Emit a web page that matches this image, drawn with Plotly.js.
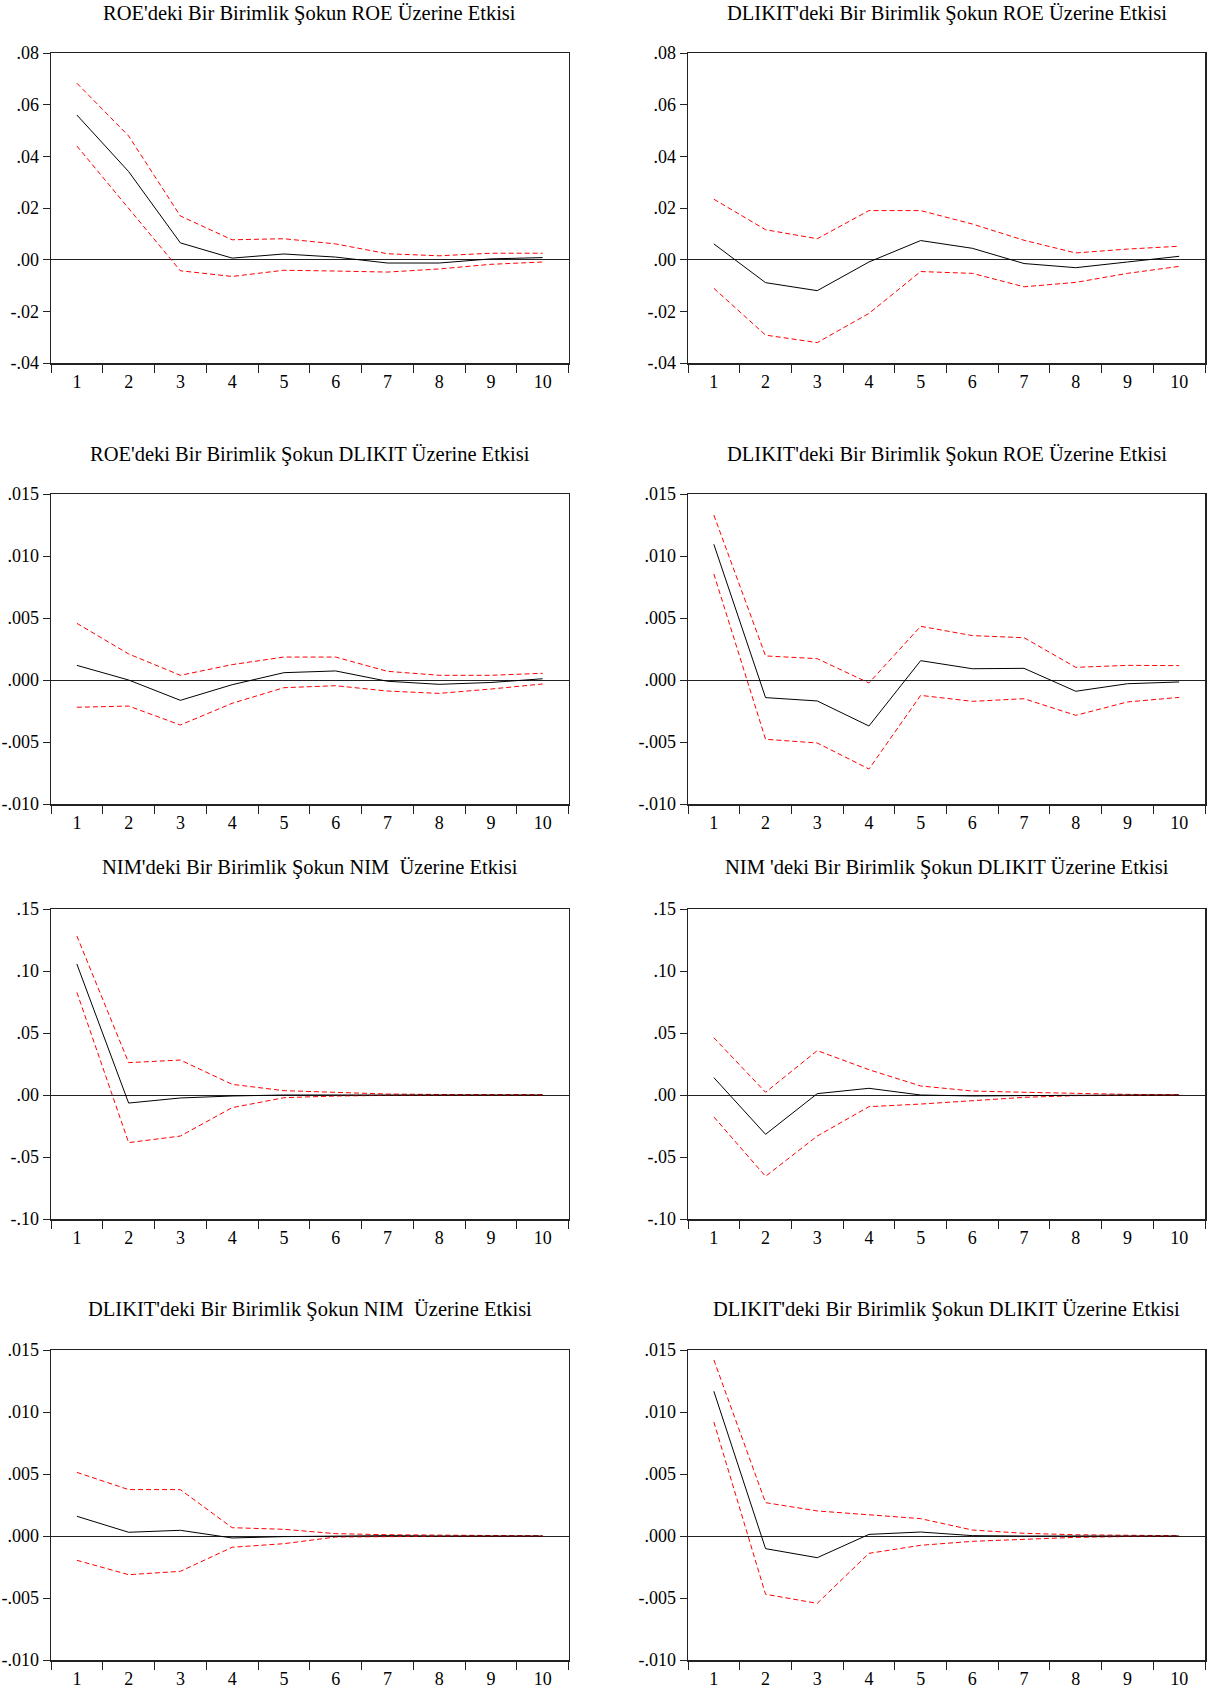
<!DOCTYPE html>
<html>
<head>
<meta charset="utf-8">
<script src="https://cdn.plot.ly/plotly-3.0.1.min.js"></script>
<style>html,body{margin:0;padding:0;background:#fff;}#chart{width:1216px;height:1695px;}</style>
</head>
<body>
<div id="chart"></div>
<script>
// ---------- DATA ----------
const horizons = ['1','2','3','4','5','6','7','8','9','10'];

const titles = [
  "ROE'deki Bir Birimlik Şokun ROE Üzerine Etkisi",
  "DLIKIT'deki Bir Birimlik Şokun ROE Üzerine Etkisi",
  "ROE'deki Bir Birimlik Şokun DLIKIT Üzerine Etkisi",
  "DLIKIT'deki Bir Birimlik Şokun ROE Üzerine Etkisi",
  "NIM'deki Bir Birimlik Şokun NIM  Üzerine Etkisi",
  "NIM 'deki Bir Birimlik Şokun DLIKIT Üzerine Etkisi",
  "DLIKIT'deki Bir Birimlik Şokun NIM  Üzerine Etkisi",
  "DLIKIT'deki Bir Birimlik Şokun DLIKIT Üzerine Etkisi"
];

// Panel 1: ROE -> ROE
const p1Resp  = [0.0560, 0.0341, 0.0065, 0.0006, 0.0022, 0.0010, -0.0013, -0.0013, 0.0003, 0.0008];
const p1Upper = [0.0683, 0.0479, 0.0169, 0.0077, 0.0081, 0.0061, 0.0023, 0.0015, 0.0025, 0.0025];
const p1Lower = [0.0440, 0.0200, -0.0043, -0.0065, -0.0041, -0.0044, -0.0048, -0.0036, -0.0018, -0.0009];

// Panel 2: DLIKIT -> ROE
const p2Resp  = [0.0061, -0.0089, -0.0120, -0.0009, 0.0074, 0.0044, -0.0015, -0.0031, -0.0009, 0.0013];
const p2Upper = [0.0234, 0.0116, 0.0081, 0.0190, 0.0190, 0.0138, 0.0075, 0.0026, 0.0041, 0.0052];
const p2Lower = [-0.0111, -0.0292, -0.0321, -0.0208, -0.0046, -0.0053, -0.0105, -0.0088, -0.0053, -0.0026];

// Panel 3: ROE -> DLIKIT
const p3Resp  = [0.00118, 0.0000, -0.00164, -0.00038, 0.00059, 0.00073, -0.00010, -0.00035, -0.00020, 0.00010];
const p3Upper = [0.00457, 0.00210, 0.00038, 0.00124, 0.00185, 0.00185, 0.00070, 0.00038, 0.00038, 0.00054];
const p3Lower = [-0.00220, -0.00210, -0.00363, -0.00188, -0.00062, -0.00046, -0.00089, -0.00108, -0.00073, -0.00032];

// Panel 4: DLIKIT -> (second row right)
const p4Resp  = [0.01094, -0.00142, -0.00169, -0.00371, 0.00156, 0.00091, 0.00094, -0.00091, -0.00030, -0.00016];
const p4Upper = [0.01330, 0.00194, 0.00172, -0.00024, 0.00433, 0.00358, 0.00341, 0.00102, 0.00118, 0.00116];
const p4Lower = [0.00855, -0.00478, -0.00508, -0.00718, -0.00124, -0.00172, -0.00151, -0.00285, -0.00177, -0.00140];

// Panel 5: NIM -> NIM
const p5Resp  = [0.1056, -0.0065, -0.0024, -0.0008, 0.0000, 0.0002, 0.0001, 0.0000, 0.0000, 0.0000];
const p5Upper = [0.1282, 0.0261, 0.0282, 0.0086, 0.0035, 0.0022, 0.0008, 0.0004, 0.0002, 0.0001];
const p5Lower = [0.0828, -0.0384, -0.0331, -0.0102, -0.0022, -0.0008, -0.0003, -0.0001, 0.0000, 0.0000];

// Panel 6: NIM -> DLIKIT
const p6Resp  = [0.0140, -0.0317, 0.0011, 0.0054, 0.0000, -0.0008, -0.0005, 0.0000, 0.0000, 0.0000];
const p6Upper = [0.0462, 0.0022, 0.0358, 0.0204, 0.0073, 0.0032, 0.0022, 0.0013, 0.0005, 0.0002];
const p6Lower = [-0.0177, -0.0656, -0.0331, -0.0094, -0.0073, -0.0043, -0.0019, -0.0005, -0.0002, -0.0001];

// Panel 7: DLIKIT -> NIM
const p7Resp  = [0.00159, 0.00030, 0.00046, -0.00016, -0.00005, 0.00000, 0.00003, 0.00000, 0.00000, 0.00000];
const p7Upper = [0.00513, 0.00374, 0.00374, 0.00067, 0.00054, 0.00019, 0.00010, 0.00005, 0.00002, 0.00001];
const p7Lower = [-0.00196, -0.00312, -0.00285, -0.00091, -0.00062, -0.00008, -0.00005, -0.00002, 0.00000, 0.00000];

// Panel 8: DLIKIT -> DLIKIT
const p8Resp  = [0.01167, -0.00102, -0.00175, 0.00013, 0.00032, 0.00003, 0.00000, 0.00000, 0.00000, 0.00000];
const p8Upper = [0.01420, 0.00269, 0.00202, 0.00172, 0.00140, 0.00048, 0.00022, 0.00010, 0.00005, 0.00002];
const p8Lower = [0.00919, -0.00470, -0.00543, -0.00140, -0.00075, -0.00043, -0.00027, -0.00011, -0.00004, -0.00001];

// Y tick values / labels
const roeTickVals = [-0.04, -0.02, 0, 0.02, 0.04, 0.06, 0.08];
const roeTickText = ['-.04', '-.02', '.00', '.02', '.04', '.06', '.08'];
const smallTickVals = [-0.010, -0.005, 0, 0.005, 0.010, 0.015];
const smallTickText = ['-.010', '-.005', '.000', '.005', '.010', '.015'];
const nimTickVals = [-0.10, -0.05, 0, 0.05, 0.10, 0.15];
const nimTickText = ['-.10', '-.05', '.00', '.05', '.10', '.15'];

// ---------- LAYOUT ----------
const W = 1216, H = 1695;
const cols = [[51, 568.5], [688, 1205]];
const rows = [[53, 363], [494, 804], [909, 1219], [1350, 1660]];
const titleY = [13, 454, 867.5, 1309];

const panels = [
  {r: p1Resp, u: p1Upper, l: p1Lower, tv: roeTickVals, tt: roeTickText},
  {r: p2Resp, u: p2Upper, l: p2Lower, tv: roeTickVals, tt: roeTickText},
  {r: p3Resp, u: p3Upper, l: p3Lower, tv: smallTickVals, tt: smallTickText},
  {r: p4Resp, u: p4Upper, l: p4Lower, tv: smallTickVals, tt: smallTickText},
  {r: p5Resp, u: p5Upper, l: p5Lower, tv: nimTickVals, tt: nimTickText},
  {r: p6Resp, u: p6Upper, l: p6Lower, tv: nimTickVals, tt: nimTickText},
  {r: p7Resp, u: p7Upper, l: p7Lower, tv: smallTickVals, tt: smallTickText},
  {r: p8Resp, u: p8Upper, l: p8Lower, tv: smallTickVals, tt: smallTickText}
];

const FONT = "'Liberation Serif', 'Times New Roman', serif";
const traces = [];
const layout = {
  width: W, height: H,
  margin: {l: 0, r: 0, t: 0, b: 0},
  paper_bgcolor: '#ffffff', plot_bgcolor: '#ffffff',
  showlegend: false,
  font: {family: FONT, size: 18, color: '#000'},
  annotations: []
};

panels.forEach((p, i) => {
  const row = Math.floor(i / 2), col = i % 2;
  const n = i + 1;
  const xa = 'x' + (n === 1 ? '' : n), ya = 'y' + (n === 1 ? '' : n);
  const xk = 'xaxis' + (n === 1 ? '' : n), yk = 'yaxis' + (n === 1 ? '' : n);
  const [x0, x1] = cols[col];
  const [t, b] = rows[row];
  const ymin = p.tv[0], ymax = p.tv[p.tv.length - 1];

  traces.push({x: horizons, y: p.u, xaxis: xa, yaxis: ya, type: 'scatter', mode: 'lines',
    line: {color: '#ff0000', width: 1, dash: '5px,3px'}, hoverinfo: 'skip'});
  traces.push({x: horizons, y: p.l, xaxis: xa, yaxis: ya, type: 'scatter', mode: 'lines',
    line: {color: '#ff0000', width: 1, dash: '5px,3px'}, hoverinfo: 'skip'});
  traces.push({x: horizons, y: p.r, xaxis: xa, yaxis: ya, type: 'scatter', mode: 'lines',
    line: {color: '#000000', width: 1}, hoverinfo: 'skip'});

  layout[xk] = {
    domain: [x0 / W, x1 / W], anchor: ya, type: 'category',
    range: [-0.5, horizons.length - 0.5],
    showline: true, linecolor: '#222', linewidth: 1.5, mirror: true,
    showgrid: false, zeroline: false,
    ticks: 'outside', ticklen: 8, tickwidth: 1, tickcolor: '#222',
    tickson: 'boundaries', ticklabelstandoff: 2,
    tickfont: {family: FONT, size: 18, color: '#000'},
    fixedrange: true
  };
  layout[yk] = {
    domain: [1 - b / H, 1 - t / H], anchor: xa,
    range: [ymin, ymax],
    showline: true, linecolor: '#222', linewidth: 1.5, mirror: true,
    showgrid: false, zeroline: true, zerolinecolor: '#222', zerolinewidth: 1,
    tickmode: 'array', tickvals: p.tv, ticktext: p.tt,
    ticks: 'outside', ticklen: 7, tickwidth: 1, tickcolor: '#222',
    tickfont: {family: FONT, size: 18, color: '#000'},
    fixedrange: true
  };
  layout.annotations.push({
    text: titles[i], xref: 'paper', yref: 'paper',
    x: (x0 + x1) / 2 / W, y: 1 - titleY[row] / H,
    xanchor: 'center', yanchor: 'middle', showarrow: false,
    font: {family: FONT, size: 20.5, color: '#000'}
  });
});

Plotly.newPlot('chart', traces, layout, {staticPlot: true});
</script>
</body>
</html>
